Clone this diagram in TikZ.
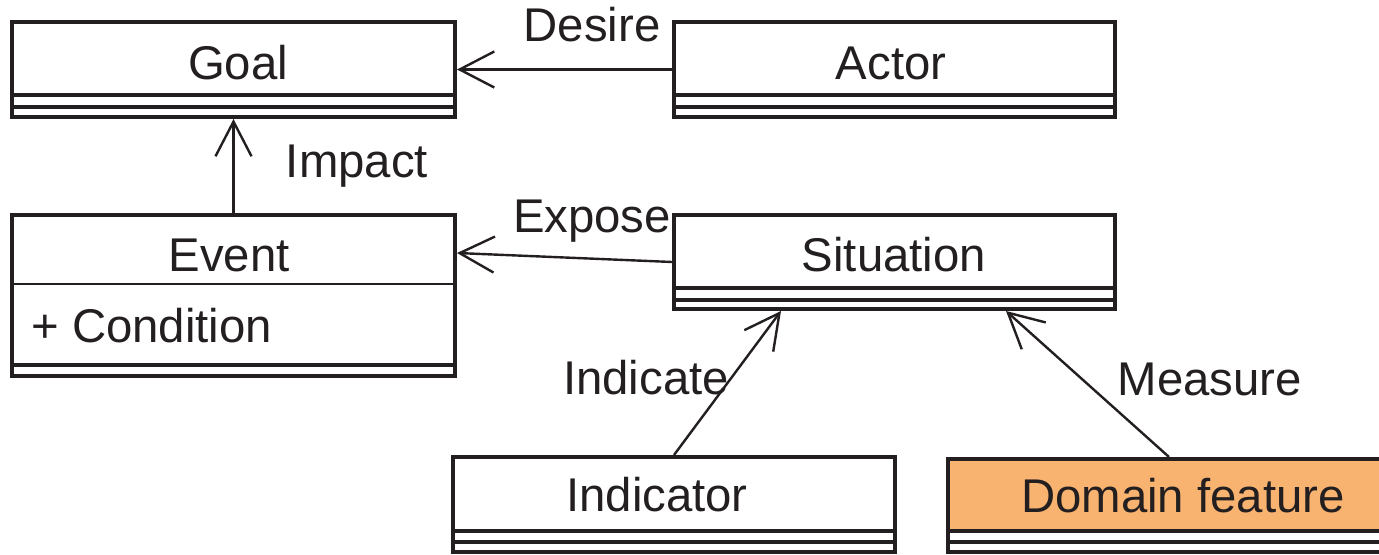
\documentclass[tikz,border=0pt]{standalone}
\usepackage{fontspec}
\setmainfont{Liberation Sans}
\usetikzlibrary{arrows.meta,calc}
\definecolor{ink}{HTML}{231F20}
\definecolor{featfill}{HTML}{F9B370}
\begin{document}
\begin{tikzpicture}[x=0.75pt,y=-0.75pt,
  font=\fontsize{35.5}{42}\selectfont, text=ink,
  umlclass/.style 2 args={draw=ink, line width=3pt, fill=white, inner sep=0pt,
    minimum width=#1*0.75pt, minimum height=#2*0.75pt},
  compline/.style={draw=ink, line width=2.4pt},
  thinline/.style={draw=ink, line width=1pt},
  lbl/.style={anchor=base, inner sep=0pt},
  assoc/.style={draw=ink, line width=1.8pt, -{Straight Barb[length=26pt,width=27pt]}}]
\useasboundingbox (0,0) rectangle (1379,555);

% class boxes
\node[umlclass={443}{95}] (goal) at (233.5,69.5) {};
\node[umlclass={441}{95}] (actor) at (894.5,69.5) {};
\node[umlclass={443}{161}] (event) at (233.5,295.5) {};
\node[umlclass={441}{94}] (situation) at (894.5,262) {};
\node[umlclass={442}{95}] (indicator) at (674,504.5) {};
\node[umlclass={442}{93},
  path picture={\fill[featfill] (path picture bounding box.north west)
    rectangle ($(path picture bounding box.south east)+(0,-23)$);}] (feature) at (1169,505.5) {};

% compartment separators
\foreach \n/\a/\b in {goal/24/12, actor/24/12, situation/23/11, indicator/23/12, feature/23/12}{
  \draw[compline] ($(\n.south west)+(0,-\a)$) -- ($(\n.south east)+(0,-\a)$);
  \draw[compline] ($(\n.south west)+(0,-\b)$) -- ($(\n.south east)+(0,-\b)$);
}
\draw[thinline] ($(event.north west)+(0,71)$) -- ($(event.north east)+(0,71)$);
\draw[compline] ($(event.south west)+(0,-13)$) -- ($(event.south east)+(0,-13)$);

% class names and attributes
\node[lbl] (goalname) at (238,80) {Goal};
\node[lbl] (actorname) at (891,80) {Actor};
\node[lbl] (eventname) at (229,272) {Event};
\node[lbl, anchor=base west] (eventattr) at (31,343) {+ Condition};
\node[lbl] (situationname) at (894,272) {Situation};
\node[lbl] (indicatorname) at (657,512) {Indicator};
\node[lbl] (featurename) at (1183,513) {Domain feature};

% associations
\draw[assoc] (actor.west) -- (goal.east);
\draw[assoc] (event.north) -- (goal.south);
\draw[assoc] (situation.west) -- ($(event.north east)+(0,40)$);
\draw[assoc] (indicator.north) -- ($(situation.south west)+(109,0)$);
\draw[assoc] (feature.north) -- ($(situation.south west)+(334,0)$);

% association labels
\node[lbl] (desire) at (592,42) {Desire};
\node[lbl] (impact) at (357,178) {Impact};
\node[lbl] (expose) at (592,233) {Expose};
\node[lbl] (indicate) at (646,395) {Indicate};
\node[lbl] (measure) at (1210,396) {Measure};
\end{tikzpicture}
\end{document}
